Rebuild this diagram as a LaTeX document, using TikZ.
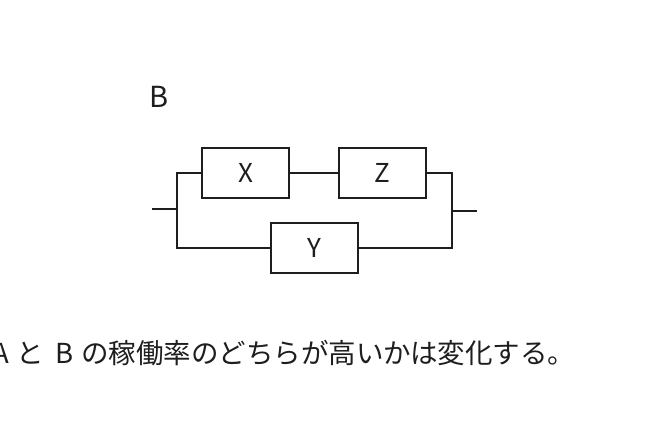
\documentclass[tikz,border=0pt]{standalone}
\usepackage{fontspec}
\setmainfont{Noto Sans CJK JP}
\usepackage{xcolor}
\definecolor{inkgray}{RGB}{30,30,30}

\begin{document}
\begin{tikzpicture}[x=1pt,y=-1pt,inkgray,
    unitbox/.style={draw,inkgray,line width=2pt,minimum width=87pt,minimum height=50pt,inner sep=0pt,font=\fontsize{26}{28}\selectfont},
    wire/.style={line width=2pt}]
        \useasboundingbox (0,0) rectangle (658,445);
        % system B: X and Z in series, parallel to Y
        \node[font=\fontsize{29}{31}\selectfont] (lblB) at (159,97) {B};
        \node[unitbox] (X) at (245.5,172.5) {X};
        \node[unitbox] (Z) at (382.5,172.5) {Z};
        \node[unitbox] (Y) at (314,247.5) {Y};
        \coordinate (inL) at (152,209);
        \coordinate (jL) at (177,209);
        \coordinate (jR) at (452,211);
        \coordinate (outR) at (477,211);
        \draw[wire] (inL) -- (jL);
        \draw[wire] (X.west) -| (jL) |- (Y.west);
        \draw[wire] (X.east) -- (Z.west);
        \draw[wire] (Z.east) -| (jR) |- (Y.east);
        \draw[wire] (jR) -- (outR);
        \node[anchor=base west,inner sep=0pt,font=\fontsize{27.5}{30}\selectfont] (remark) at (-8,363)
            {A\hspace{8pt}と\hspace{11pt}B\hspace{8pt}の稼働率のどちらが高いかは変化する。};
    \end{tikzpicture}
\end{document}
